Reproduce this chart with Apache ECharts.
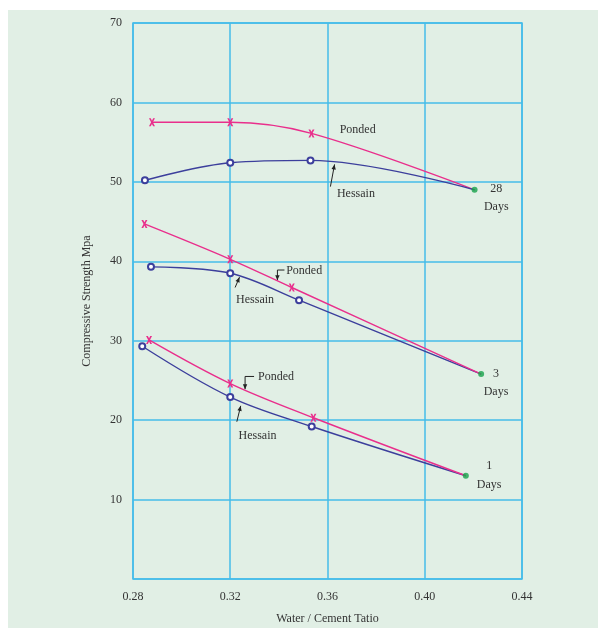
<!DOCTYPE html>
<html>
<head>
<meta charset="utf-8">
<script src="https://cdn.jsdelivr.net/npm/echarts@6/dist/echarts.min.js"></script>
<style>
  html, body { margin: 0; padding: 0; background: #ffffff; }
  #panel { position: absolute; left: 8px; top: 10px; right: 0; bottom: 0; background: #e1efe5; }
  #main { position: absolute; left: 0; top: 0; width: 598px; height: 628px; }
</style>
</head>
<body>
<div id="panel"></div>
<div id="main"></div>
<script>
// water / cement ratio and strength (MPa)
const xTicks = [0.28, 0.32, 0.36, 0.40, 0.44]
const yTicks = [0, 10, 20, 30, 40, 50, 60, 70]

const ponded28X = [0.2878, 0.32, 0.3534, 0.4205]
const ponded28Y = [57.5, 57.5, 56.1, 49.0]
const hessain28X = [0.2849, 0.32, 0.353, 0.4205]
const hessain28Y = [50.2, 52.4, 52.7, 49.0]

const ponded3X = [0.2847, 0.32, 0.3453, 0.4232]
const ponded3Y = [44.7, 40.25, 36.7, 25.8]
const hessain3X = [0.2874, 0.32, 0.3483, 0.4232]
const hessain3Y = [39.3, 38.5, 35.1, 25.8]

const ponded1X = [0.2866, 0.32, 0.3542, 0.4169]
const ponded1Y = [30.1, 24.6, 20.3, 13.0]
const hessain1X = [0.2838, 0.32, 0.3535, 0.4169]
const hessain1Y = [29.3, 22.9, 19.2, 13.0]

// common end points of each age group
const endX = [0.4205, 0.4232, 0.4169]
const endY = [49.0, 25.8, 13.0]

const PINK = '#e92f8c'
const BLUE = '#3c3f9c'
const GRID = '#45bce8'
const TEXT = '#333333'
const FONT = '"Liberation Serif", "DejaVu Serif", serif'
const XMARK = 'path://M0,0L3,0L5,3L7,0L10,0L6.5,5L10,10L7,10L5,7L3,10L0,10L3.5,5Z'

const chart = echarts.init(document.getElementById('main'))

function pairs (xs, ys) {
  // the last point of every curve is the green end dot, so no marker there
  return xs.map((x, i) => {
    const item = { value: [x, ys[i]] }
    if (i === xs.length - 1) item.symbol = 'none'
    return item
  })
}

function curve (name, xs, ys, color, symbol) {
  const isCircle = symbol === 'emptyCircle'
  return {
    name: name,
    type: 'line',
    smooth: 0.35,
    data: pairs(xs, ys),
    symbol: symbol,
    symbolSize: isCircle ? 6 : [6, 8],
    showAllSymbol: true,
    lineStyle: { color: color, width: 1.4 },
    itemStyle: { color: color, borderColor: color, borderWidth: isCircle ? 1.4 : 0 },
    z: 3,
    silent: true
  }
}

const option = {
  animation: false,
  backgroundColor: 'transparent',
  grid: {
    left: 133,
    right: 76,
    top: 23,
    bottom: 49,
    outerBoundsMode: 'none',
    containLabel: false,
    show: true,
    borderColor: GRID,
    borderWidth: 1.5
  },
  xAxis: {
    type: 'value',
    min: 0.28,
    max: 0.44,
    interval: 0.04,
    name: 'Water / Cement Tatio',
    nameLocation: 'middle',
    nameGap: 34,
    nameTextStyle: { color: TEXT, fontFamily: FONT, fontSize: 12 },
    axisLine: { show: false },
    axisTick: { show: false },
    axisLabel: {
      color: TEXT,
      fontFamily: FONT,
      fontSize: 12,
      margin: 12,
      formatter: (v) => xTicks.find(t => Math.abs(t - v) < 1e-6).toFixed(2)
    },
    splitLine: { show: true, lineStyle: { color: GRID, width: 1.5 } }
  },
  yAxis: {
    type: 'value',
    min: yTicks[0],
    max: yTicks[yTicks.length - 1],
    interval: 10,
    name: 'Compressive Strength Mpa',
    nameLocation: 'middle',
    nameGap: 40,
    nameRotate: 90,
    nameTextStyle: { color: TEXT, fontFamily: FONT, fontSize: 12 },
    axisLine: { show: false },
    axisTick: { show: false },
    axisLabel: {
      color: TEXT,
      fontFamily: FONT,
      fontSize: 12,
      margin: 11,
      formatter: (v) => (v === 0 ? '' : String(v))
    },
    splitLine: { show: true, lineStyle: { color: GRID, width: 1.5 } }
  },
  series: [
    curve('Ponded 28', ponded28X, ponded28Y, PINK, XMARK),
    curve('Hessain 28', hessain28X, hessain28Y, BLUE, 'emptyCircle'),
    curve('Hessain 3', hessain3X, hessain3Y, BLUE, 'emptyCircle'),
    curve('Ponded 3', ponded3X, ponded3Y, PINK, XMARK),
    curve('Hessain 1', hessain1X, hessain1Y, BLUE, 'emptyCircle'),
    curve('Ponded 1', ponded1X, ponded1Y, PINK, XMARK),
    {
      name: 'end',
      type: 'scatter',
      data: endX.map((x, i) => [x, endY[i]]),
      symbol: 'circle',
      symbolSize: 6,
      itemStyle: { color: '#17a24a' },
      z: 5,
      silent: true
    }
  ]
}
chart.setOption(option)

// annotation texts, placed in data coordinates
const notes = [
  { text: 'Ponded', at: [0.3724, 56.6] },
  { text: 'Hessain', at: [0.3717, 48.5] },
  { text: '28', at: [0.4294, 49.1] },
  { text: 'Days', at: [0.4294, 46.9] },
  { text: 'Ponded', at: [0.3504, 38.8] },
  { text: 'Hessain', at: [0.3302, 35.1] },
  { text: '3', at: [0.4293, 25.8] },
  { text: 'Days', at: [0.4293, 23.5] },
  { text: 'Ponded', at: [0.3388, 25.5] },
  { text: 'Hessain', at: [0.3312, 18.0] },
  { text: '1', at: [0.4265, 14.3] },
  { text: 'Days', at: [0.4265, 11.9] }
]
// pointer arrows: list of points, arrow head at the last one
const pointers = [
  [[0.3612, 49.4], [0.3629, 52.2]],
  [[0.3423, 38.9], [0.3394, 38.9], [0.3394, 37.6]],
  [[0.3220, 36.7], [0.3238, 38.0]],
  [[0.3298, 25.5], [0.3261, 25.5], [0.3261, 23.9]],
  [[0.3227, 19.8], [0.3243, 21.8]]
]

function drawNotes () {
  const px = (p) => chart.convertToPixel({ xAxisIndex: 0, yAxisIndex: 0 }, p)
  const elements = []
  notes.forEach((n) => {
    const p = px(n.at)
    elements.push({
      type: 'text',
      x: p[0],
      y: p[1],
      style: {
        text: n.text,
        fill: TEXT,
        font: '12px ' + FONT,
        align: 'center',
        verticalAlign: 'middle'
      },
      silent: true
    })
  })
  pointers.forEach((pts) => {
    const p = pts.map(px)
    elements.push({
      type: 'polyline',
      shape: { points: p },
      style: { stroke: '#222', lineWidth: 1, fill: null },
      silent: true
    })
    const a = p[p.length - 2]
    const b = p[p.length - 1]
    const ang = Math.atan2(b[1] - a[1], b[0] - a[0])
    const len = 5
    const wid = 2.2
    const bx = b[0] - Math.cos(ang) * len
    const by = b[1] - Math.sin(ang) * len
    elements.push({
      type: 'polygon',
      shape: {
        points: [
          b,
          [bx - Math.sin(ang) * wid, by + Math.cos(ang) * wid],
          [bx + Math.sin(ang) * wid, by - Math.cos(ang) * wid]
        ]
      },
      style: { fill: '#222' },
      silent: true
    })
  })
  chart.setOption({ graphic: { elements: elements } })
}
drawNotes()

window.addEventListener('resize', () => {
  chart.resize()
  drawNotes()
})
</script>
</body>
</html>
